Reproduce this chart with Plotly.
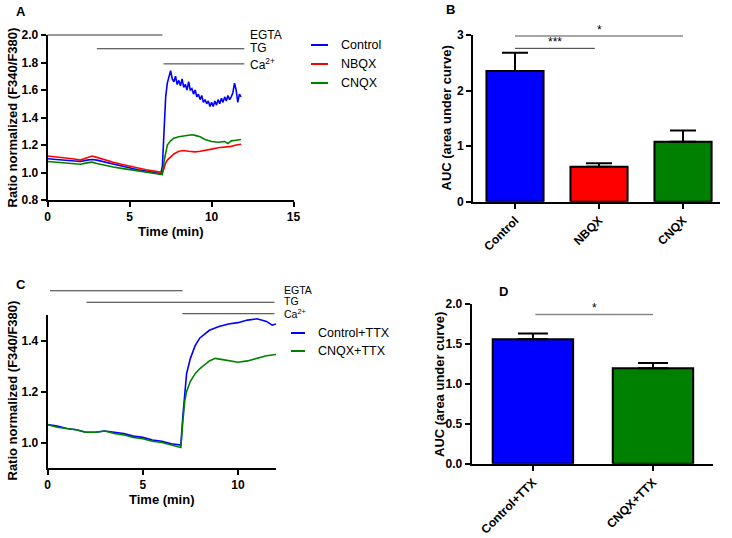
import plotly.graph_objects as go

# ---------------- data ----------------
# Panel A traces (time in min, ratio)
tA_ctrl = [0, 0.5, 1, 1.5, 2, 2.4, 2.7, 3, 3.5, 4, 4.5, 5, 5.5, 6, 6.5, 6.9, 7.0, 7.1, 7.2, 7.3, 7.4, 7.5,
           7.6, 7.7, 7.8, 7.9, 8.0, 8.1, 8.2, 8.3, 8.4, 8.5, 8.6, 8.7, 8.8, 8.9, 9.0, 9.1, 9.2, 9.3, 9.4,
           9.5, 9.6, 9.7, 9.8, 9.9, 10.0, 10.1, 10.2, 10.3, 10.4, 10.5, 10.6, 10.7, 10.8, 10.9, 11.0,
           11.1, 11.2, 11.3, 11.4, 11.5, 11.6, 11.7, 11.8]
vA_ctrl = [1.10, 1.095, 1.09, 1.085, 1.08, 1.09, 1.095, 1.09, 1.075, 1.06, 1.045, 1.03, 1.02, 1.01, 1.0,
           0.99, 1.05, 1.35, 1.55, 1.65, 1.70, 1.74, 1.68, 1.66, 1.70, 1.64, 1.67, 1.63, 1.68, 1.62, 1.64,
           1.60, 1.66, 1.60, 1.61, 1.57, 1.60, 1.55, 1.57, 1.53, 1.56, 1.51, 1.53, 1.50, 1.52, 1.48, 1.51,
           1.48, 1.52, 1.49, 1.53, 1.50, 1.54, 1.51, 1.55, 1.52, 1.56, 1.53, 1.55, 1.58, 1.65, 1.60, 1.51,
           1.57, 1.55]
tA_nbqx = [0, 0.5, 1, 1.5, 2, 2.4, 2.7, 3, 3.5, 4, 4.5, 5, 5.5, 6, 6.5, 7.0, 7.1, 7.2, 7.3, 7.5, 7.7,
           8.0, 8.3, 8.6, 9.0, 9.3, 9.6, 10, 10.4, 10.8, 11.2, 11.5, 11.8]
vA_nbqx = [1.12, 1.115, 1.105, 1.10, 1.09, 1.105, 1.12, 1.11, 1.09, 1.075, 1.06, 1.045, 1.035, 1.02,
           1.01, 1.0, 1.03, 1.07, 1.09, 1.11, 1.135, 1.155, 1.16, 1.155, 1.15, 1.155, 1.16, 1.17, 1.18,
           1.185, 1.19, 1.20, 1.205]
tA_cnqx = [0, 0.5, 1, 1.5, 2, 2.4, 2.7, 3, 3.5, 4, 4.5, 5, 5.5, 6, 6.5, 7.0, 7.1, 7.2, 7.3, 7.5, 7.7,
           8.0, 8.3, 8.6, 8.8, 9.0, 9.3, 9.6, 10, 10.4, 10.8, 11.0, 11.2, 11.5, 11.8]
vA_cnqx = [1.08, 1.075, 1.07, 1.065, 1.06, 1.07, 1.075, 1.065, 1.05, 1.04, 1.03, 1.02, 1.015, 1.005,
           0.995, 0.985, 1.08, 1.15, 1.20, 1.23, 1.25, 1.26, 1.265, 1.27, 1.275, 1.27, 1.26, 1.24, 1.225,
           1.22, 1.225, 1.21, 1.23, 1.235, 1.24]

# Panel B bars
catB = ["Control", "NBQX", "CNQX"]
aucB = [2.35, 0.63, 1.08]
semB = [0.33, 0.06, 0.20]

# Panel C traces
tC_ctrl = [0, 0.5, 1, 1.5, 2, 2.5, 3, 3.5, 4, 4.5, 5, 5.5, 6, 6.5, 7.0, 7.1, 7.2, 7.3, 7.5, 7.75, 8.0,
           8.5, 9, 9.5, 10, 10.5, 11, 11.5, 11.8, 12]
vC_ctrl = [1.07, 1.065, 1.055, 1.05, 1.04, 1.04, 1.045, 1.04, 1.035, 1.025, 1.02, 1.01, 1.005, 0.995,
           0.99, 1.10, 1.20, 1.27, 1.33, 1.38, 1.41, 1.44, 1.455, 1.465, 1.47, 1.48, 1.485, 1.475, 1.46,
           1.465]
tC_cnqx = [0, 0.5, 1, 1.5, 2, 2.5, 3, 3.5, 4, 4.5, 5, 5.5, 6, 6.5, 7.0, 7.1, 7.2, 7.3, 7.5, 7.75, 8.0,
           8.5, 8.8, 9.2, 9.6, 10, 10.5, 11, 11.5, 12]
vC_cnqx = [1.07, 1.06, 1.055, 1.05, 1.04, 1.04, 1.045, 1.035, 1.03, 1.02, 1.015, 1.005, 1.0, 0.99,
           0.98, 1.08, 1.16, 1.20, 1.24, 1.27, 1.29, 1.32, 1.33, 1.325, 1.32, 1.315, 1.32, 1.33, 1.34,
           1.345]

# Panel D bars
catD = ["Control+TTX", "CNQX+TTX"]
aucD = [1.56, 1.195]
semD = [0.07, 0.065]

# Treatment bars: (label, start, end)
treatA = [("EGTA", 0, 7.0), ("TG", 3.0, 12.0), ("Ca<sup>2+</sup>", 7.07, 12.0)]
treatA_y = [2.0, 1.9, 1.79]
treatC = [("EGTA", 0.12, 7.08), ("TG", 2.04, 11.92), ("Ca<sup>2+</sup>", 7.08, 11.92)]
treatC_y = [1.595, 1.55, 1.505]

# Axis titles
x_title_time = "Time (min)"
y_title_ratio = "Ratio normalized (F340/F380)"
y_title_auc = "AUC (area under curve)"

# ---------------- layout geometry ----------------
W, H = 732, 538
def px_x(p): return p / W
def px_y(p): return 1 - p / H

dom = {
    "A": dict(x=[px_x(47.7), px_x(293.5)], y=[px_y(200), px_y(35)], xr=[0, 15], yr=[0.8, 2.0]),
    "B": dict(x=[px_x(473), px_x(720)], y=[px_y(201.7), px_y(35)], xr=[-0.5, 2.44], yr=[0, 3]),
    "C": dict(x=[px_x(47.7), px_x(276)], y=[px_y(468), px_y(315)], xr=[0, 12], yr=[0.9, 1.5]),
    "D": dict(x=[px_x(471.7), px_x(713)], y=[px_y(463.7), px_y(304)], xr=[-0.51, 1.5], yr=[0, 2]),
}

def paper_x(p, v):
    d = dom[p]; return d["x"][0] + (v - d["xr"][0]) / (d["xr"][1] - d["xr"][0]) * (d["x"][1] - d["x"][0])

def paper_y(p, v):
    d = dom[p]; return d["y"][0] + (v - d["yr"][0]) / (d["yr"][1] - d["yr"][0]) * (d["y"][1] - d["y"][0])

FONT = "Liberation Sans, Arial, sans-serif"
BLUE, RED, GREEN = "#0000FF", "#FF0000", "#008000"

fig = go.Figure()

# Panel A lines
for t, v, c, n in [(tA_ctrl, vA_ctrl, BLUE, "Control"), (tA_nbqx, vA_nbqx, RED, "NBQX"),
                   (tA_cnqx, vA_cnqx, GREEN, "CNQX")]:
    fig.add_trace(go.Scatter(x=t, y=v, mode="lines", line=dict(color=c, width=1.6), name=n,
                             xaxis="x", yaxis="y", showlegend=False))

# Panel B bars
fig.add_trace(go.Bar(x=catB, y=aucB, marker=dict(color=[BLUE, RED, GREEN], line=dict(color="black", width=2)),
                     width=0.68, xaxis="x2", yaxis="y2", showlegend=False,
                     error_y=dict(type="data", symmetric=False, array=semB, arrayminus=[0] * 3,
                                  color="black", thickness=2, width=13)))

# Panel C lines
for t, v, c, n in [(tC_ctrl, vC_ctrl, BLUE, "Control+TTX"), (tC_cnqx, vC_cnqx, GREEN, "CNQX+TTX")]:
    fig.add_trace(go.Scatter(x=t, y=v, mode="lines", line=dict(color=c, width=1.6), name=n,
                             xaxis="x3", yaxis="y3", showlegend=False))

# Panel D bars
fig.add_trace(go.Bar(x=catD, y=aucD, marker=dict(color=[BLUE, GREEN], line=dict(color="black", width=2)),
                     width=0.67, xaxis="x4", yaxis="y4", showlegend=False,
                     error_y=dict(type="data", symmetric=False, array=semD, arrayminus=[0] * 2,
                                  color="black", thickness=2, width=15)))

tick_font = dict(family=FONT, size=12, color="black", weight="bold")
axis_common = dict(showgrid=False, zeroline=False, showline=True, linecolor="black", linewidth=2,
                   ticks="outside", ticklen=5, tickwidth=2, tickcolor="black", tickfont=tick_font,
                   automargin=False)
title_font = dict(family=FONT, size=13, color="black", weight="bold")

def ax(panel, which, **kw):
    d = dom[panel]
    a = dict(axis_common)
    a["domain"] = d[which]
    a["range"] = d[which + "r"]
    a.update(kw)
    return a

fig.update_layout(
    width=W, height=H, margin=dict(l=0, r=0, t=0, b=0),
    paper_bgcolor="white", plot_bgcolor="white", showlegend=False,
    xaxis=ax("A", "x", anchor="y", tickvals=[0, 5, 10, 15]),
    yaxis=ax("A", "y", anchor="x", tickvals=[0.8, 1.0, 1.2, 1.4, 1.6, 1.8, 2.0], tickformat=".1f"),
    xaxis2=ax("B", "x", anchor="y2", type="category", tickangle=-45),
    yaxis2=ax("B", "y", anchor="x2", tickvals=[0, 1, 2, 3]),
    xaxis3=ax("C", "x", anchor="y3", tickvals=[0, 5, 10]),
    yaxis3=ax("C", "y", anchor="x3", tickvals=[1.0, 1.2, 1.4], tickformat=".1f"),
    xaxis4=ax("D", "x", anchor="y4", type="category", tickangle=-45),
    yaxis4=ax("D", "y", anchor="x4", tickvals=[0, 0.5, 1.0, 1.5, 2.0], tickformat=".1f"),
)

shapes = []
annots = []

# axis titles placed as annotations
for text, xp, yp, ang in [(x_title_time, 171, 231, 0), (x_title_time, 162, 499, 0),
                          (y_title_ratio, 12, 117.5, -90), (y_title_ratio, 11.5, 391, -90),
                          (y_title_auc, 445.5, 118, -90), (y_title_auc, 439, 385, -90)]:
    annots.append(dict(text=text, xref="paper", yref="paper", x=px_x(xp), y=px_y(yp),
                       xanchor="center", yanchor="middle", showarrow=False, textangle=ang,
                       font=title_font))

# treatment bars + labels
for panel, treat, ys, lab_x, lab_dy, fs in [("A", treatA, treatA_y, 248, [35, 48, 64], 12),
                                            ("C", treatC, treatC_y, 282, [290, 301, 313], 10.5)]:
    for (lab, x0, x1), yv, lyp in zip(treat, ys, lab_dy):
        shapes.append(dict(type="line", xref="paper", yref="paper",
                           x0=paper_x(panel, x0), x1=paper_x(panel, x1),
                           y0=paper_y(panel, yv), y1=paper_y(panel, yv),
                           line=dict(color="#333333", width=1)))
        annots.append(dict(text=lab, xref="paper", yref="paper", x=px_x(lab_x), y=px_y(lyp),
                           xanchor="left", yanchor="middle", showarrow=False,
                           font=dict(family=FONT, size=fs, color="black")))

# manual legends
legA = [("Control", BLUE), ("NBQX", RED), ("CNQX", GREEN)]
for (name, c), yp in zip(legA, [45, 64, 83]):
    shapes.append(dict(type="line", xref="paper", yref="paper", x0=px_x(311), x1=px_x(328),
                       y0=px_y(yp), y1=px_y(yp), line=dict(color=c, width=2)))
    annots.append(dict(text=name, xref="paper", yref="paper", x=px_x(339), y=px_y(yp),
                       xanchor="left", yanchor="middle", showarrow=False,
                       font=dict(family=FONT, size=12.5, color="black")))
legC = [("Control+TTX", BLUE), ("CNQX+TTX", GREEN)]
for (name, c), yp in zip(legC, [333, 351]):
    shapes.append(dict(type="line", xref="paper", yref="paper", x0=px_x(291), x1=px_x(305),
                       y0=px_y(yp), y1=px_y(yp), line=dict(color=c, width=2)))
    annots.append(dict(text=name, xref="paper", yref="paper", x=px_x(316), y=px_y(yp),
                       xanchor="left", yanchor="middle", showarrow=False,
                       font=dict(family=FONT, size=12.5, color="black")))

# significance bars
sig = [("B", 0, 0.95, 2.76, "***", "#333333", 1),
       ("B", 0, 2.0, 2.98, "*", "#888888", 1.5),
       ("D", 0.02, 1.0, 1.87, "*", "#888888", 1.5)]
for panel, x0, x1, yv, star, col, lw in sig:
    shapes.append(dict(type="line", xref="paper", yref="paper",
                       x0=paper_x(panel, x0), x1=paper_x(panel, x1),
                       y0=paper_y(panel, yv), y1=paper_y(panel, yv), line=dict(color=col, width=lw)))
    annots.append(dict(text=star, xref="paper", yref="paper",
                       x=(paper_x(panel, x0) + paper_x(panel, x1)) / 2, y=paper_y(panel, yv),
                       xanchor="center", yanchor="bottom", showarrow=False, yshift=-3,
                       font=dict(family=FONT, size=12, color="black")))

# panel letters
for lab, xp, yp in [("A", 21, 11), ("B", 450, 10), ("C", 21, 284), ("D", 503, 291)]:
    annots.append(dict(text="<b>%s</b>" % lab, xref="paper", yref="paper", x=px_x(xp), y=px_y(yp),
                       xanchor="center", yanchor="middle", showarrow=False,
                       font=dict(family=FONT, size=13, color="black")))

fig.update_layout(shapes=shapes, annotations=annots)
fig.write_html("out.html", config={"displayModeBar": False},
               post_script="document.body.style.margin='0px';")
